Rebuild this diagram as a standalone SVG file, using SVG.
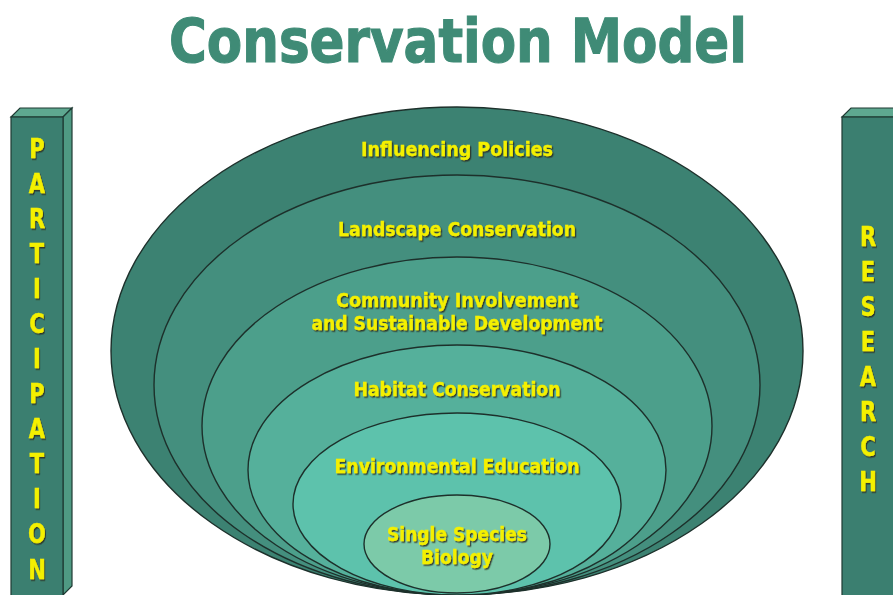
<svg xmlns="http://www.w3.org/2000/svg" width="893" height="595" viewBox="0 0 893 595">
<defs>
<filter id="sh" x="-10%" y="-30%" width="120%" height="160%">
<feDropShadow dx="1.3" dy="1.5" stdDeviation="0.4" flood-color="#2a2a20" flood-opacity="0.85"/>
</filter>
<style>
.lbl{font-family:"DejaVu Sans","Liberation Sans",sans-serif;font-weight:bold;font-size:19px;fill:#f4f000;stroke:#f4f000;stroke-width:0.3;text-anchor:middle;filter:url(#sh)}
.ring{stroke:#1d302b;stroke-width:1.4}
.pf{fill:#3b7f70;stroke:#1f3a33;stroke-width:1.2}
.pt{fill:#5ea890;stroke:#1f3a33;stroke-width:1.2}
.ps{fill:#4f9a83;stroke:#1f3a33;stroke-width:1.2}
.vl{font-family:"DejaVu Sans","Liberation Sans",sans-serif;font-weight:bold;font-size:27px;fill:#f4f000;stroke:#f4f000;stroke-width:0.4;text-anchor:middle;filter:url(#sh)}
</style>
</defs>
<rect width="893" height="595" fill="#ffffff"/>
<text x="458" y="62" font-family="DejaVu Sans, Liberation Sans, sans-serif" font-weight="bold" font-size="60" fill="#3f8b76" stroke="#3f8b76" stroke-width="1.2" text-anchor="middle" textLength="578" lengthAdjust="spacingAndGlyphs">Conservation Model</text>

<g id="participation">
<polygon class="pt" points="11,117 20,108 72,108 63,117"/>
<polygon class="ps" points="63,117 72,108 72,586 63,595"/>
<rect class="pf" x="11" y="117" width="52" height="480"/>
<g transform="translate(37,0) scale(0.78,1) translate(-37,0)">
<text class="vl" x="37"><tspan x="37" y="158">P</tspan><tspan x="37" y="193">A</tspan><tspan x="37" y="228">R</tspan><tspan x="37" y="263">T</tspan><tspan x="37" y="298">I</tspan><tspan x="37" y="333">C</tspan><tspan x="37" y="368">I</tspan><tspan x="37" y="403">P</tspan><tspan x="37" y="438">A</tspan><tspan x="37" y="473">T</tspan><tspan x="37" y="508">I</tspan><tspan x="37" y="543">O</tspan><tspan x="37" y="579">N</tspan></text>
</g>
</g>

<g id="research">
<polygon class="pt" points="842,117 851,108 900,108 900,117"/>
<rect class="pf" x="842" y="117" width="60" height="480"/>
<g transform="translate(868,0) scale(0.78,1) translate(-868,0)">
<text class="vl" x="868"><tspan x="868" y="246">R</tspan><tspan x="868" y="281">E</tspan><tspan x="868" y="316">S</tspan><tspan x="868" y="351">E</tspan><tspan x="868" y="386">A</tspan><tspan x="868" y="421">R</tspan><tspan x="868" y="456">C</tspan><tspan x="868" y="491">H</tspan></text>
</g>
</g>

<g id="influencing-policies">
<ellipse class="ring" cx="457" cy="351" rx="346" ry="244" fill="#3c8272"/>
<text class="lbl" x="457" y="156" textLength="192" lengthAdjust="spacingAndGlyphs">Influencing Policies</text>
</g>
<g id="landscape-conservation">
<ellipse class="ring" cx="457" cy="385" rx="303" ry="210" fill="#448f7e"/>
<text class="lbl" x="457" y="236" textLength="238" lengthAdjust="spacingAndGlyphs">Landscape Conservation</text>
</g>
<g id="community-involvement">
<ellipse class="ring" cx="457" cy="426" rx="255" ry="169" fill="#4c9f8b"/>
<text class="lbl" x="457" y="307" textLength="242" lengthAdjust="spacingAndGlyphs">Community Involvement</text>
<text class="lbl" x="457" y="330" textLength="291" lengthAdjust="spacingAndGlyphs">and Sustainable Development</text>
</g>
<g id="habitat-conservation">
<ellipse class="ring" cx="457" cy="470" rx="209" ry="125" fill="#55b09b"/>
<text class="lbl" x="457" y="396" textLength="207" lengthAdjust="spacingAndGlyphs">Habitat Conservation</text>
</g>
<g id="environmental-education">
<ellipse class="ring" cx="457" cy="504" rx="164" ry="91" fill="#5dc2ac"/>
<text class="lbl" x="457" y="473" textLength="245" lengthAdjust="spacingAndGlyphs">Environmental Education</text>
</g>
<g id="single-species-biology">
<ellipse class="ring" cx="457" cy="544" rx="93" ry="49" fill="#7ccaa9"/>
<text class="lbl" x="457" y="541" textLength="140" lengthAdjust="spacingAndGlyphs">Single Species</text>
<text class="lbl" x="457" y="564" textLength="72" lengthAdjust="spacingAndGlyphs">Biology</text>
</g>
</svg>
